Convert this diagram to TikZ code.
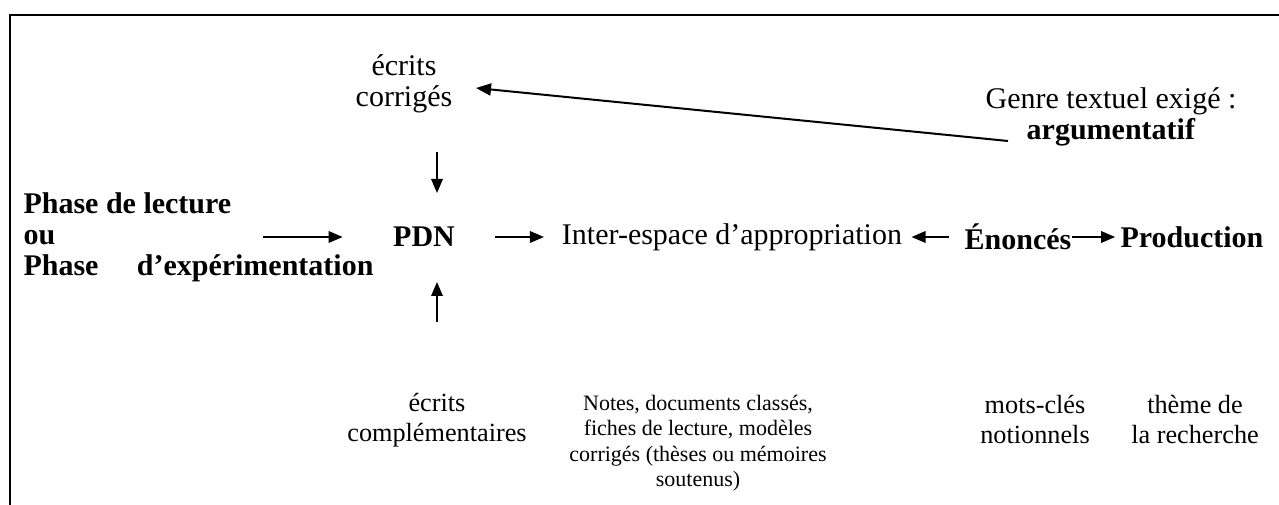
\documentclass[tikz,border=0pt]{standalone}
\usepackage{fontspec}
\setmainfont{Liberation Serif}
\usetikzlibrary{arrows.meta}
\begin{document}
\begin{tikzpicture}[x=0.4pt,y=-0.4pt,
  lbl/.style={inner sep=0pt, align=center, font=\fontsize{12}{12.4}\selectfont},
  blbl/.style={inner sep=0pt, align=center, font=\fontsize{12}{12.4}\selectfont\bfseries},
  lowlbl/.style={inner sep=0pt, align=center, font=\fontsize{10.5}{12}\selectfont},
  small/.style={inner sep=0pt, align=center, font=\fontsize{8.8}{10.2}\selectfont},
  arr/.style={line width=0.7pt, -{Triangle[length=5.6pt,width=4.6pt]}},
  longarr/.style={line width=0.8pt, -{Triangle[length=6pt,width=4.8pt]}},
  frameline/.style={line width=0.8pt}]
\useasboundingbox (0,0) rectangle (1279,505);
\draw[frameline] (10,505) -- (10,15) -- (1279,15);

% top
\node[lbl] (corr) at (404,84) {écrits\\corrigés};
\node[lbl] (genre) at (1111,117) {Genre textuel exigé :\\\textbf{argumentatif}};

% middle row
\node[blbl, anchor=west, align=left] (phase) at (23,237)
  {Phase de lecture\\ou\\\hbox to 140pt{Phase\hfill d’expérimentation}};
\node[blbl] (pdn) at (424,237) {PDN};
\node[lbl] (inter) at (732,237) {Inter-espace d’appropriation};
\node[blbl] (enon) at (1018,237) {Énoncés};
\node[blbl] (prod) at (1192,237) {Production};

% bottom
\node[lowlbl] (compl) at (437,420) {écrits\\complémentaires};
\node[small] (notes) at (698,443) {Notes, documents classés,\\fiches de lecture, modèles\\corrigés (thèses ou mémoires\\soutenus)};
\node[lowlbl] (mots) at (1035,420) {mots-clés\\notionnels};
\node[lowlbl] (theme) at (1195,420) {thème de\\la recherche};

% coordinates for free arrow ends
\coordinate (lt) at (1008,141);
\coordinate (lh) at (476,88);
\coordinate (dt) at (437,152);
\coordinate (dh) at (437,193);
\coordinate (ut) at (437,322);
\coordinate (uh) at (437,282);

\draw[longarr] (lt) -- (lh);
\draw[arr] (dt) -- (dh);
\draw[arr] (ut) -- (uh);
\draw[arr] ([xshift=96pt]phase.west |- pdn) -- ([xshift=-20pt]pdn.west);
\draw[arr] ([xshift=16pt]pdn.east) -- ([xshift=-7pt]inter.west);
\draw[arr] ([xshift=-6pt]enon.west) -- ([xshift=3.6pt]inter.east);
\draw[arr] (enon.east) -- ([xshift=-2pt]prod.west);
\end{tikzpicture}
\end{document}
